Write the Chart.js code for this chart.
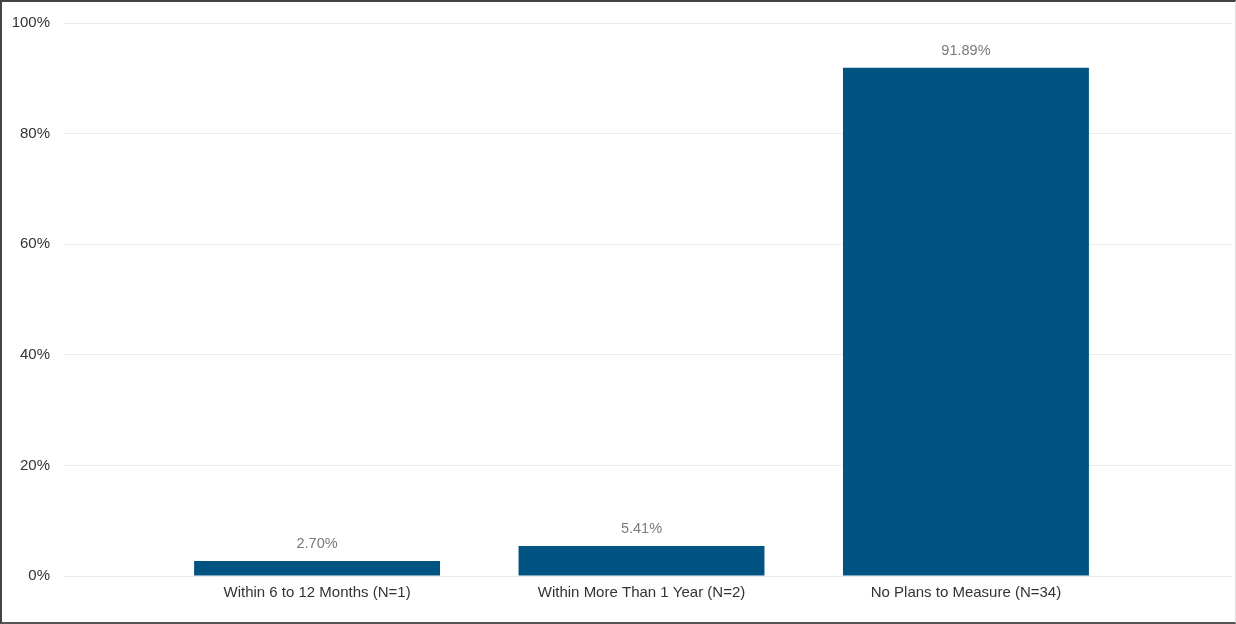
<!DOCTYPE html>
<html>
<head>
<meta charset="utf-8">
<script src="https://cdn.jsdelivr.net/npm/chart.js@4.4.0/dist/chart.umd.min.js"></script>
<style>
    html, body { margin: 0; padding: 0; background: #fff; }
    #wrap {
        position: relative;
        width: 1236px;
        height: 624px;
        box-sizing: border-box;
        border-top: 2px solid #444;
        border-left: 2px solid #444;
        border-bottom: 2px solid #555;
        border-right: 1px solid #ddd;
    }
    #chart { position: absolute; left: 0; top: 0; }
</style>
</head>
<body>
<div id="wrap"></div>
<canvas id="chart" width="1236" height="624"></canvas>

<script>
// Chart data
const categories = ['Within 6 to 12 Months (N=1)', 'Within More Than 1 Year (N=2)', 'No Plans to Measure (N=34)'];
const percentValues = [2.70, 5.41, 91.89];
const yTicks = [0, 20, 40, 60, 80, 100];

const barColor = '#015481';
const fontFamily = '"Liberation Sans", Arial, sans-serif';

// Value labels above bars
const valueLabels = {
    id: 'valueLabels',
    afterDatasetsDraw(chart) {
        const ctx = chart.ctx;
        const meta = chart.getDatasetMeta(0);
        ctx.save();
        ctx.font = '14.5px ' + fontFamily;
        ctx.fillStyle = '#7a7a7a';
        ctx.textAlign = 'center';
        ctx.textBaseline = 'middle';
        meta.data.forEach((bar, i) => {
            ctx.fillText(percentValues[i].toFixed(2) + '%', bar.x, bar.y - 17);
        });
        ctx.restore();
    }
};

function setupChart() {
    const ctx = document.getElementById('chart').getContext('2d');

    new Chart(ctx, {
        type: 'bar',
        data: {
            datasets: [{
                data: percentValues.map((v, i) => ({ x: i, y: v })),
                backgroundColor: barColor,
                borderWidth: 0,
                barPercentage: 0.758,
                categoryPercentage: 1
            }]
        },
        options: {
            responsive: false,
            animation: false,
            layout: { padding: { top: 22, right: 4, left: 0, bottom: 0 } },
            plugins: {
                legend: { display: false },
                tooltip: { enabled: false }
            },
            scales: {
                x: {
                    type: 'linear',
                    offset: false,
                    min: -0.78,
                    max: 2.82,
                    grid: { display: false, drawTicks: false, offset: false },
                    border: { display: false },
                    afterBuildTicks: scale => {
                        scale.ticks = categories.map((c, i) => ({ value: i }));
                    },
                    afterFit: scale => { scale.height = 48; },
                    ticks: {
                        autoSkip: false,
                        maxRotation: 0,
                        padding: 8,
                        color: '#333',
                        font: { family: fontFamily, size: 15 },
                        callback: v => categories[v]
                    }
                },
                y: {
                    min: 0,
                    max: 100,
                    grid: { color: '#ebebeb', lineWidth: 1, drawTicks: false },
                    border: { display: false },
                    afterBuildTicks: scale => {
                        scale.ticks = yTicks.map(v => ({ value: v }));
                    },
                    afterFit: scale => { scale.width = 64; },
                    ticks: {
                        padding: 14,
                        color: '#333',
                        font: { family: fontFamily, size: 15 },
                        callback: v => v + '%'
                    }
                }
            }
        },
        plugins: [valueLabels]
    });
}

document.addEventListener('DOMContentLoaded', setupChart);
</script>
</body>
</html>
